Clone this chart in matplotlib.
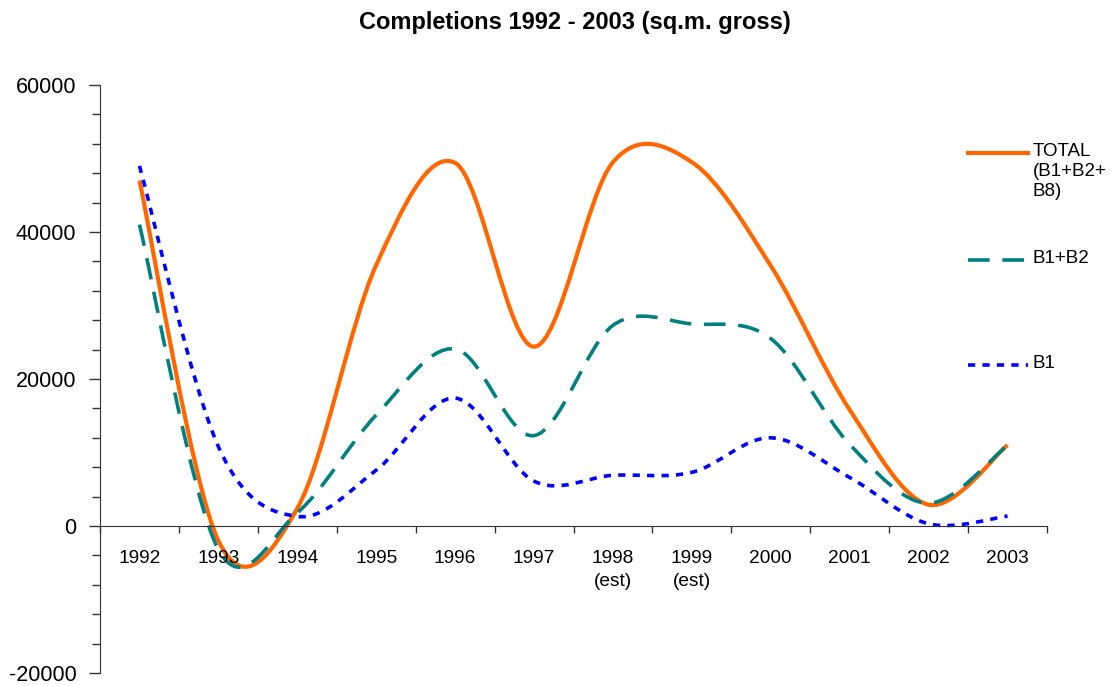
import numpy as np
import matplotlib.pyplot as plt
from matplotlib.path import Path
from matplotlib.patches import PathPatch
from matplotlib.lines import Line2D
from matplotlib.ticker import MultipleLocator

plt.rcParams['font.family'] = ['Liberation Sans', 'DejaVu Sans']
plt.rcParams['axes.unicode_minus'] = False

years = ['1992', '1993', '1994', '1995', '1996', '1997', '1998\n(est)',
         '1999\n(est)', '2000', '2001', '2002', '2003']
total = [47000, -2000, 2400, 35500, 49400, 24400, 49500, 49500, 35400, 15800, 2900, 11000]
b1_b2 = [41000, -3200, 1800, 15100, 24100, 12300, 27300, 27500, 25500, 11100, 3100, 11000]
b1 = [49000, 10800, 1300, 7600, 17400, 6100, 6900, 7300, 12000, 6600, 300, 1350]

W, H = 1114, 686


def smooth_path(ys):
    # Excel-style smoothed line: cubic Bezier through every point
    x = np.arange(len(ys), dtype=float)
    y = np.asarray(ys, dtype=float)
    verts = [(x[0], y[0])]
    codes = [Path.MOVETO]
    n = len(y)
    for i in range(n - 1):
        p0 = max(i - 1, 0)
        p3 = min(i + 2, n - 1)
        c1 = (x[i] + (x[i + 1] - x[p0]) / 6, y[i] + (y[i + 1] - y[p0]) / 6)
        c2 = (x[i + 1] - (x[p3] - x[i]) / 6, y[i + 1] - (y[p3] - y[i]) / 6)
        verts += [c1, c2, (x[i + 1], y[i + 1])]
        codes += [Path.CURVE4] * 3
    return Path(verts, codes)


fig = plt.figure(figsize=(W / 100, H / 100), dpi=100)
ax = fig.add_axes([100 / W, 1 - 673 / H, 947 / W, 588 / H])

series = [
    (total, '#FF6600', '-', 3.0),
    (b1_b2, '#008080', (0, (6, 3.5)), 2.6),
    (b1, '#0000FF', (0, (2, 2)), 2.6),
]
for ys, col, ls, lw in series:
    ax.add_patch(PathPatch(smooth_path(ys), fill=False, edgecolor=col,
                           linestyle=ls, linewidth=lw, capstyle='butt'))

ax.set_xlim(-0.5, len(years) - 0.5)
ax.set_ylim(-20000, 60000)

for s in ['top', 'right']:
    ax.spines[s].set_visible(False)
ax.spines['bottom'].set_position(('data', 0))
ax.spines['left'].set_color('#333333')
ax.spines['bottom'].set_color('#333333')

ax.yaxis.set_major_locator(MultipleLocator(20000))
ax.yaxis.set_minor_locator(MultipleLocator(4000))
ax.tick_params(axis='y', which='major', length=8, width=1, labelsize=15.5, pad=9, color='#333333')
ax.tick_params(axis='y', which='minor', length=6, width=1, color='#333333')

ax.set_xticks(np.arange(len(years) + 1) - 0.5)
ax.set_xticklabels([])
ax.set_xticks(np.arange(len(years)), minor=True)
ax.set_xticklabels(years, minor=True, fontsize=13.8, linespacing=1.5)
ax.tick_params(axis='x', which='major', length=5, width=1, direction='out', color='#333333')
ax.tick_params(axis='x', which='minor', length=0, pad=17)

fig.text(575 / W, 1 - 22 / H, 'Completions 1992 - 2003 (sq.m. gross)',
         ha='center', va='center', fontsize=17, fontweight='bold')

# legend
leg = [
    (153, '#FF6600', '-', 3.0, 'TOTAL\n(B1+B2+\nB8)'),
    (260, '#008080', (0, (6, 3.5)), 2.6, 'B1+B2'),
    (365, '#0000FF', (0, (2, 2)), 2.6, 'B1'),
]
for ypx, col, ls, lw, lab in leg:
    fy = 1 - ypx / H
    fig.add_artist(Line2D([968 / W, 1028 / W], [fy, fy], color=col, linestyle=ls,
                          linewidth=lw, transform=fig.transFigure))
    fig.text(1033 / W, fy + 10 / H, lab, ha='left', va='top', fontsize=13.5, linespacing=1.25)

fig.savefig('out.png', dpi=100)
